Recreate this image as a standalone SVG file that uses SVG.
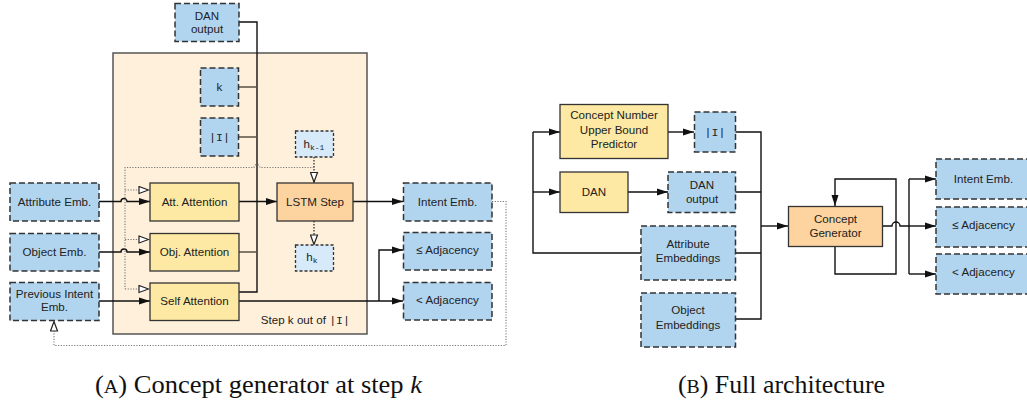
<svg xmlns="http://www.w3.org/2000/svg" width="1027" height="405" viewBox="0 0 1027 405">
<style>
.blue{fill:#b2d5ef;stroke:#333;stroke-width:1.5;stroke-dasharray:6 3}
.hbox{fill:#d7eafa;stroke:#333;stroke-width:1.3;stroke-dasharray:3 2}
.yel{fill:#fde9a3;stroke:#333;stroke-width:1.3}
.org{fill:#fdd49f;stroke:#333;stroke-width:1.3}
.cont{fill:#fff0dc;stroke:#555;stroke-width:1.5}
.t{font-family:"Liberation Sans",Arial,sans-serif;font-size:11.6px;fill:#222;text-anchor:middle}
.m{font-family:"Liberation Mono","DejaVu Sans Mono",monospace}
.ln{fill:none;stroke:#111;stroke-width:1.4}
.ln2{fill:none;stroke:#5a5040;stroke-width:1.4}
.dot{fill:none;stroke:#777;stroke-width:1.1;stroke-dasharray:1.2 1.5}
.dotk{fill:none;stroke:#222;stroke-width:1.2;stroke-dasharray:1.5 1.5}
.cap{font-family:"Liberation Serif","Times New Roman",serif;font-size:25px;fill:#111}
</style>
<defs>
<marker id="fa" markerUnits="userSpaceOnUse" markerWidth="11" markerHeight="8" refX="11" refY="4" orient="auto">
<path d="M0,0.5 L11,4 L0,7.5 z" fill="#111"/>
</marker>
<marker id="ha" markerUnits="userSpaceOnUse" markerWidth="12" markerHeight="9" refX="11" refY="4.5" orient="auto">
<path d="M1,1 L10.5,4.5 L1,8 z" fill="#fff" stroke="#222" stroke-width="1.2"/>
</marker>
</defs>

<g id="container-a">
<rect class="cont" x="113" y="53" width="254" height="281"/>
<text class="t" x="350" y="324" style="text-anchor:end">Step k out of <tspan class="m">|I|</tspan></text>
</g>

<g id="connectors">
<!-- panel A -->
<path class="ln" d="M239,22 H257 V292 H239"/>
<path class="ln2" d="M239,87 H257 M239,137 H257 M239,252 H257"/>
<path class="ln" d="M239,201.5 H277" marker-end="url(#fa)"/>
<path class="ln" d="M99,201.5 H121 a3,3 0 0 1 6,0 H150" marker-end="url(#fa)"/>
<path class="ln" d="M99,252 H121 a3,3 0 0 1 6,0 H150" marker-end="url(#fa)"/>
<path class="ln" d="M99,301 H150" marker-end="url(#fa)"/>
<path class="ln" d="M353,201.5 H403" marker-end="url(#fa)"/>
<path class="ln" d="M239,301 H403" marker-end="url(#fa)"/>
<path class="ln" d="M379,301 V250 H403" marker-end="url(#fa)"/>
<path class="dotk" d="M314,157 V182.5" marker-end="url(#ha)"/>
<path class="dotk" d="M314,221 V245" marker-end="url(#ha)"/>
<path class="dot" d="M314,167.5 H260 a3,3 0 0 0 -6,0 H125 V289"/>
<path class="dot" d="M125,190 H149" marker-end="url(#ha)"/>
<path class="dot" d="M125,239.5 H149" marker-end="url(#ha)"/>
<path class="dot" d="M125,289 H149" marker-end="url(#ha)"/>
<path class="dot" d="M492,201.5 H506 V345.5 H54 V321" marker-end="url(#ha)"/>
<!-- panel B -->
<path class="ln" d="M533,132 V253 H641"/>
<path class="ln" d="M533,132 H560" marker-end="url(#fa)"/>
<path class="ln" d="M533,192 H560" marker-end="url(#fa)"/>
<path class="ln" d="M668,132 H694" marker-end="url(#fa)"/>
<path class="ln" d="M628,192 H668" marker-end="url(#fa)"/>
<path class="ln" d="M735,132 H761 V319 H735 M735,192 H761 M735,253 H761"/>
<path class="ln" d="M761,226 H788" marker-end="url(#fa)"/>
<path class="ln" d="M835,247 V274 H896 V179 H835 V206" marker-end="url(#fa)"/>
<path class="ln" d="M883,226 H892 a4,4 0 0 1 8,0 H909"/>
<path class="ln" d="M909,179 V274"/>
<path class="ln" d="M909,179 H936" marker-end="url(#fa)"/>
<path class="ln" d="M909,226 H936" marker-end="url(#fa)"/>
<path class="ln" d="M909,274 H936" marker-end="url(#fa)"/>
</g>

<!-- panel A nodes -->
<g id="a-dan-output"><rect class="blue" x="175" y="3.5" width="64" height="38"/><text class="t" x="207" y="19.5">DAN</text><text class="t" x="207" y="32.5">output</text></g>
<g id="a-k"><rect class="blue" x="200.5" y="68" width="38" height="38"/><text class="t" x="219.5" y="91">k</text></g>
<g id="a-i"><rect class="blue" x="200.5" y="118" width="38" height="38"/><text class="t m" x="219.5" y="141">|I|</text></g>
<g id="a-hk1"><rect class="hbox" x="295.5" y="131" width="38" height="26"/><text class="t" x="314" y="148">h<tspan class="m" font-size="8" dy="2">k-1</tspan></text></g>
<g id="a-attr-emb"><rect class="blue" x="10" y="183" width="89" height="38"/><text class="t" x="54.5" y="205.5">Attribute Emb.</text></g>
<g id="a-att-att"><rect class="yel" x="150" y="183" width="89" height="38"/><text class="t" x="194.5" y="205.5">Att. Attention</text></g>
<g id="a-lstm"><rect class="org" x="277" y="183" width="76" height="38"/><text class="t" x="315" y="205.5">LSTM Step</text></g>
<g id="a-intent"><rect class="blue" x="403.5" y="183" width="88.5" height="38"/><text class="t" x="447.5" y="205.5">Intent Emb.</text></g>
<g id="a-obj-emb"><rect class="blue" x="10" y="233.5" width="89" height="37.5"/><text class="t" x="54.5" y="256">Object Emb.</text></g>
<g id="a-obj-att"><rect class="yel" x="150" y="233.5" width="89" height="37.5"/><text class="t" x="194.5" y="256">Obj. Attention</text></g>
<g id="a-hk"><rect class="hbox" x="295.5" y="245" width="38" height="26"/><text class="t" x="312" y="261">h<tspan class="m" font-size="8" dy="2">k</tspan></text></g>
<g id="a-le-adj"><rect class="blue" x="403.5" y="232.5" width="88.5" height="37.5"/><text class="t" x="447.5" y="253.5">≤ Adjacency</text></g>
<g id="a-prev"><rect class="blue" x="10" y="282.5" width="89" height="38"/><text class="t" x="54.5" y="297.5">Previous Intent</text><text class="t" x="54.5" y="310.5">Emb.</text></g>
<g id="a-self-att"><rect class="yel" x="150" y="283" width="89" height="37.5"/><text class="t" x="194.5" y="305">Self Attention</text></g>
<g id="a-lt-adj"><rect class="blue" x="403.5" y="282.5" width="88.5" height="37.5"/><text class="t" x="447.5" y="303.5">&lt; Adjacency</text></g>

<!-- panel B nodes -->
<g id="b-cnubp"><rect class="yel" x="560" y="104.5" width="108" height="54"/><text class="t" x="614" y="119">Concept Number</text><text class="t" x="614" y="133.5">Upper Bound</text><text class="t" x="614" y="148">Predictor</text></g>
<g id="b-i"><rect class="blue" x="694.5" y="112" width="41" height="40"/><text class="t m" x="715" y="136">|I|</text></g>
<g id="b-dan"><rect class="yel" x="560" y="172" width="68" height="40.5"/><text class="t" x="594" y="196">DAN</text></g>
<g id="b-dan-output"><rect class="blue" x="668" y="172" width="67.5" height="40.5"/><text class="t" x="702" y="188.5">DAN</text><text class="t" x="702" y="202.5">output</text></g>
<g id="b-attr"><rect class="blue" x="641" y="226" width="94.5" height="54"/><text class="t" x="688" y="247.5">Attribute</text><text class="t" x="688" y="262">Embeddings</text></g>
<g id="b-obj"><rect class="blue" x="641" y="293" width="94.5" height="54"/><text class="t" x="688" y="314">Object</text><text class="t" x="688" y="328.5">Embeddings</text></g>
<g id="b-cg"><rect class="org" x="788.5" y="206.5" width="94" height="40"/><text class="t" x="835.5" y="222.5">Concept</text><text class="t" x="835.5" y="236.5">Generator</text></g>
<g id="b-intent"><rect class="blue" x="936" y="159" width="95" height="40"/><text class="t" x="983.5" y="183">Intent Emb.</text></g>
<g id="b-le-adj"><rect class="blue" x="936" y="207" width="95" height="40"/><text class="t" x="983.5" y="229">≤ Adjacency</text></g>
<g id="b-lt-adj"><rect class="blue" x="936" y="254" width="95" height="40"/><text class="t" x="983.5" y="276">&lt; Adjacency</text></g>

<g id="captions">
<text class="cap" x="95" y="392.5" textLength="327" lengthAdjust="spacingAndGlyphs">(<tspan font-size="19">A</tspan>) Concept generator at step <tspan font-style="italic">k</tspan></text>
<text class="cap" x="678" y="392.5" textLength="207" lengthAdjust="spacingAndGlyphs">(<tspan font-size="19">B</tspan>) Full architecture</text>
</g>
</svg>
